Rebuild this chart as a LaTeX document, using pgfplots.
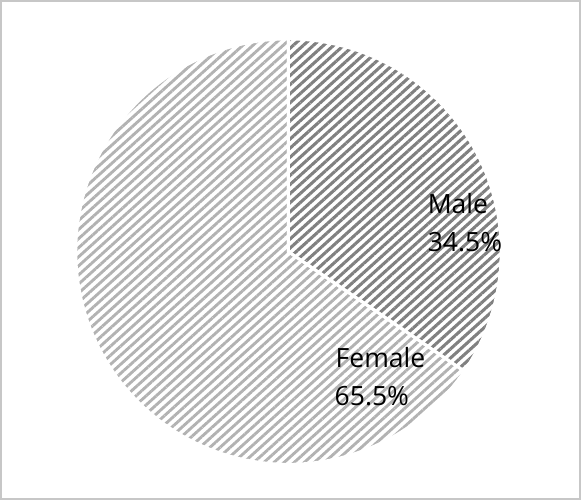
\documentclass[border=0pt]{standalone}
\usepackage{pgfplots}
\pgfplotsset{compat=1.18}
\usepackage{fontspec}
\setmainfont{Open Sans}
\usetikzlibrary{patterns.meta}
\begin{document}
\begin{tikzpicture}
\def\male{34.5}
\def\female{65.5}
\def\cx{293}
\def\cy{244}
\def\R{208}
\pgfmathsetmacro{\aone}{90-3.6*\male}
\pgfmathsetmacro{\atwo}{\aone-3.6*\female}
\begin{axis}[
  scale only axis, width=581bp, height=499bp,
  xmin=0, xmax=581, ymin=0, ymax=499,
  hide axis, clip=false,
]
% frame
\draw[line width=2bp, color=black!22] (axis cs:12,2) rectangle (axis cs:578,489);
% female slice
\addplot[draw=white, line width=3bp,
  pattern={Lines[angle=42,distance=6.6bp,line width=2.8bp]}, pattern color=black!30,
  domain=\aone:\atwo, samples=150, variable=\t]
  ({\cx+\R*cos(\t)},{\cy+\R*sin(\t)}) -- (axis cs:\cx,\cy) -- cycle;
% male slice
\addplot[draw=white, line width=3bp,
  pattern={Lines[angle=42,distance=6.6bp,line width=3bp]}, pattern color=black!50,
  domain=90:\aone, samples=80, variable=\t]
  ({\cx+\R*cos(\t)},{\cy+\R*sin(\t)}) -- (axis cs:\cx,\cy) -- cycle;
% labels
\node[anchor=base west, inner sep=0, font=\fontsize{26}{31}\selectfont, text=black] at (axis cs:429,281) {Male};
\node[anchor=base west, inner sep=0, font=\fontsize{26}{31}\selectfont, text=black] at (axis cs:429,244) {34.5\%};
\node[anchor=base west, inner sep=0, font=\fontsize{26}{31}\selectfont, text=black] at (axis cs:339,131) {Female};
\node[anchor=base west, inner sep=0, font=\fontsize{26}{31}\selectfont, text=black] at (axis cs:338,94) {65.5\%};
\end{axis}
\end{tikzpicture}
\end{document}
